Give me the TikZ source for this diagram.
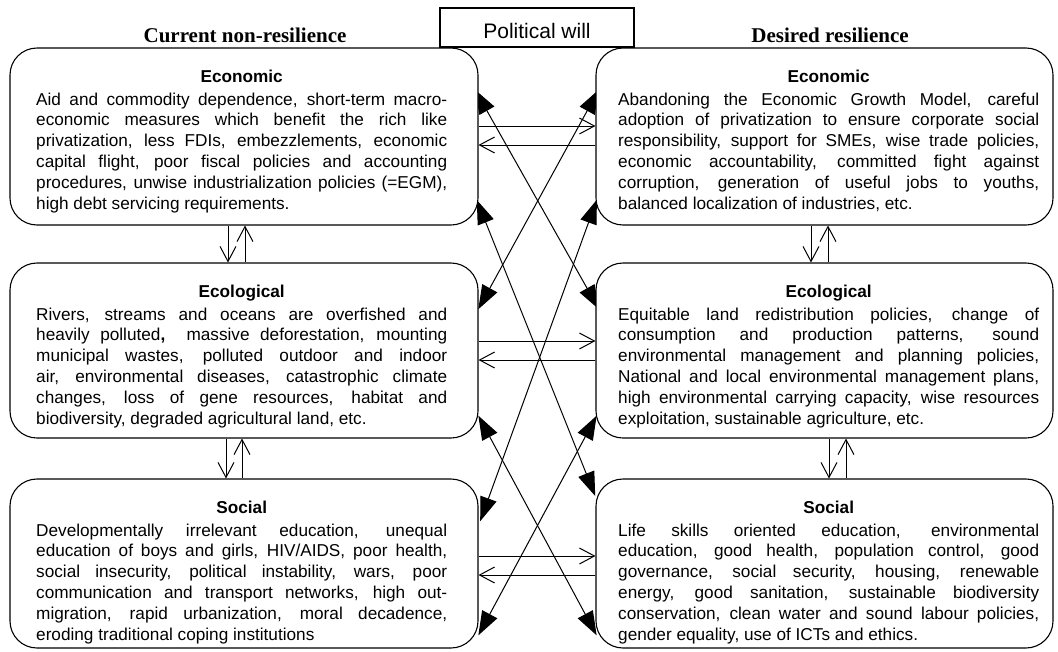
\documentclass[tikz,border=0pt]{standalone}
\usepackage{fontspec}
\setmainfont{Liberation Sans}
\newfontfamily\hdrfont{Liberation Serif}
\usetikzlibrary{arrows.meta,calc}
\newlength\tw
\newcommand\jl[1]{\makebox[\tw][s]{#1}\\}
\newcommand\lastl[1]{\makebox[\tw][l]{#1}}
\newcommand\ttl[1]{\makebox[\tw][c]{\bfseries #1}\\[2.2pt]}
\newcommand\btext[2]{\setlength\tw{#1}\parbox[t]{\tw}{\fontsize{17.2}{20.8}\selectfont #2}}
\begin{document}
\begin{tikzpicture}[x=1pt,y=-1pt,
  box/.style={draw, line width=1.1pt, rounded corners=27pt, fill=white, inner sep=0pt},
  txt/.style={inner sep=0pt, anchor=base west},
  hdr/.style={inner sep=0pt, anchor=base, font=\hdrfont\bfseries\fontsize{21}{25}\selectfont},
  dbl/.style={line width=1pt, {Triangle[length=24pt,width=17pt]}-{Triangle[length=24pt,width=17pt]}, shorten <=-14pt, shorten >=-14pt},
  opn/.style={line width=1pt, -{Straight Barb[length=15pt,width=16pt]}}]
\useasboundingbox (0,0) rectangle (1058,651);
% arrow head centres of the crossing connectors
\coordinate (a1) at (482,102); \coordinate (b1) at (592,297);
\coordinate (a2) at (592,102); \coordinate (b2) at (485,297);
\coordinate (a3) at (482,213); \coordinate (b3) at (590,483);
\coordinate (a4) at (592,213); \coordinate (b4) at (485,508);
\coordinate (a5) at (485,428); \coordinate (b5) at (590,623);
\coordinate (a6) at (590,428); \coordinate (b6) at (485,623);
\foreach \i in {1,...,6} \draw[dbl] (a\i) -- (b\i);
% boxes
\node[box, minimum width=468pt, minimum height=177pt] (LE) at (244,136.5) {};
\node[box, minimum width=468pt, minimum height=175pt] (LC) at (244,350.5) {};
\node[box, minimum width=468pt, minimum height=169pt] (LS) at (244,563.5) {};
\node[box, minimum width=457pt, minimum height=177pt] (RE) at (824.5,136.5) {};
\node[box, minimum width=457pt, minimum height=175pt] (RC) at (824.5,350.5) {};
\node[box, minimum width=457pt, minimum height=169pt] (RS) at (824.5,563.5) {};
\node[draw, line width=1.1pt, fill=white, inner sep=0pt, minimum width=194pt, minimum height=39pt] (PW) at (537,27.5) {};
\node[inner sep=0pt, anchor=base, font=\fontsize{21}{25}\selectfont] (PWt) at (537,38) {Political will};
\node[hdr] (HL) at (245,42) {Current non-resilience};
\node[hdr] (HR) at (830,42) {Desired resilience};
% texts
\node[txt] (LEt) at (36,82) {\btext{411pt}{\ttl{Economic}%
\jl{Aid and commodity dependence, short-term macro-}%
\jl{economic measures which benefit the rich like}%
\jl{privatization, less FDIs, embezzlements, economic}%
\jl{capital flight, poor fiscal policies and accounting}%
\jl{procedures, unwise industrialization policies (=EGM),}%
\lastl{high debt servicing requirements.}}};
\node[txt] (LCt) at (36,297) {\btext{411pt}{\ttl{Ecological}%
\jl{Rivers, streams and oceans are overfished and}%
\jl{heavily polluted\textbf{,}\ \ massive deforestation, mounting}%
\jl{municipal wastes, polluted outdoor and indoor}%
\jl{air, environmental diseases, catastrophic climate}%
\jl{changes, loss of gene resources, habitat and}%
\lastl{biodiversity, degraded agricultural land, etc.}}};
\node[txt] (LSt) at (36,513) {\btext{411pt}{\ttl{Social}%
\jl{Developmentally irrelevant education, unequal}%
\jl{education of boys and girls, HIV/AIDS, poor health,}%
\jl{social insecurity, political instability, wars, poor}%
\jl{communication and transport networks, high out-}%
\jl{migration, rapid urbanization, moral decadence,}%
\lastl{eroding traditional coping institutions}}};
\node[txt] (REt) at (618,82) {\btext{421pt}{\ttl{Economic}%
\jl{Abandoning the Economic Growth Model, careful}%
\jl{adoption of privatization to ensure corporate social}%
\jl{responsibility, support for SMEs, wise trade policies,}%
\jl{economic accountability, committed fight against}%
\jl{corruption, generation of useful jobs to youths,}%
\lastl{balanced localization of industries, etc.}}};
\node[txt] (RCt) at (618,297) {\btext{421pt}{\ttl{Ecological}%
\jl{Equitable land redistribution policies, change of}%
\jl{consumption and production patterns, sound}%
\jl{environmental management and planning policies,}%
\jl{National and local environmental management plans,}%
\jl{high environmental carrying capacity, wise resources}%
\lastl{exploitation, sustainable agriculture, etc.}}};
\node[txt] (RSt) at (618,513) {\btext{421pt}{\ttl{Social}%
\jl{Life skills oriented education, environmental}%
\jl{education, good health, population control, good}%
\jl{governance, social security, housing, renewable}%
\jl{energy, good sanitation, sustainable biodiversity}%
\jl{conservation, clean water and sound labour policies,}%
\lastl{gender equality, use of ICTs and ethics.}}};
% horizontal arrows
\coordinate (y1) at (0,126); \coordinate (y2) at (0,145);
\coordinate (y3) at (0,341); \coordinate (y4) at (0,360);
\coordinate (y5) at (0,556); \coordinate (y6) at (0,575);
\draw[opn] (LE.east |- y1) -- (RE.west |- y1);
\draw[opn] (RE.west |- y2) -- (LE.east |- y2);
\draw[opn] (LC.east |- y3) -- (RC.west |- y3);
\draw[opn] (RC.west |- y4) -- (LC.east |- y4);
\draw[opn] (LS.east |- y5) -- (RS.west |- y5);
\draw[opn] (RS.west |- y6) -- (LS.east |- y6);
% vertical arrows
\coordinate (x1) at (228,0); \coordinate (x2) at (245,0);
\coordinate (x3) at (226,0); \coordinate (x4) at (242,0);
\coordinate (x5) at (811,0); \coordinate (x6) at (828,0);
\coordinate (x7) at (829,0); \coordinate (x8) at (846,0);
\draw[opn] (LE.south -| x1) -- (LC.north -| x1);
\draw[opn] (LC.north -| x2) -- (LE.south -| x2);
\draw[opn] (LC.south -| x3) -- (LS.north -| x3);
\draw[opn] (LS.north -| x4) -- (LC.south -| x4);
\draw[opn] (RE.south -| x5) -- (RC.north -| x5);
\draw[opn] (RC.north -| x6) -- (RE.south -| x6);
\draw[opn] (RC.south -| x7) -- (RS.north -| x7);
\draw[opn] (RS.north -| x8) -- (RC.south -| x8);
\end{tikzpicture}
\end{document}
